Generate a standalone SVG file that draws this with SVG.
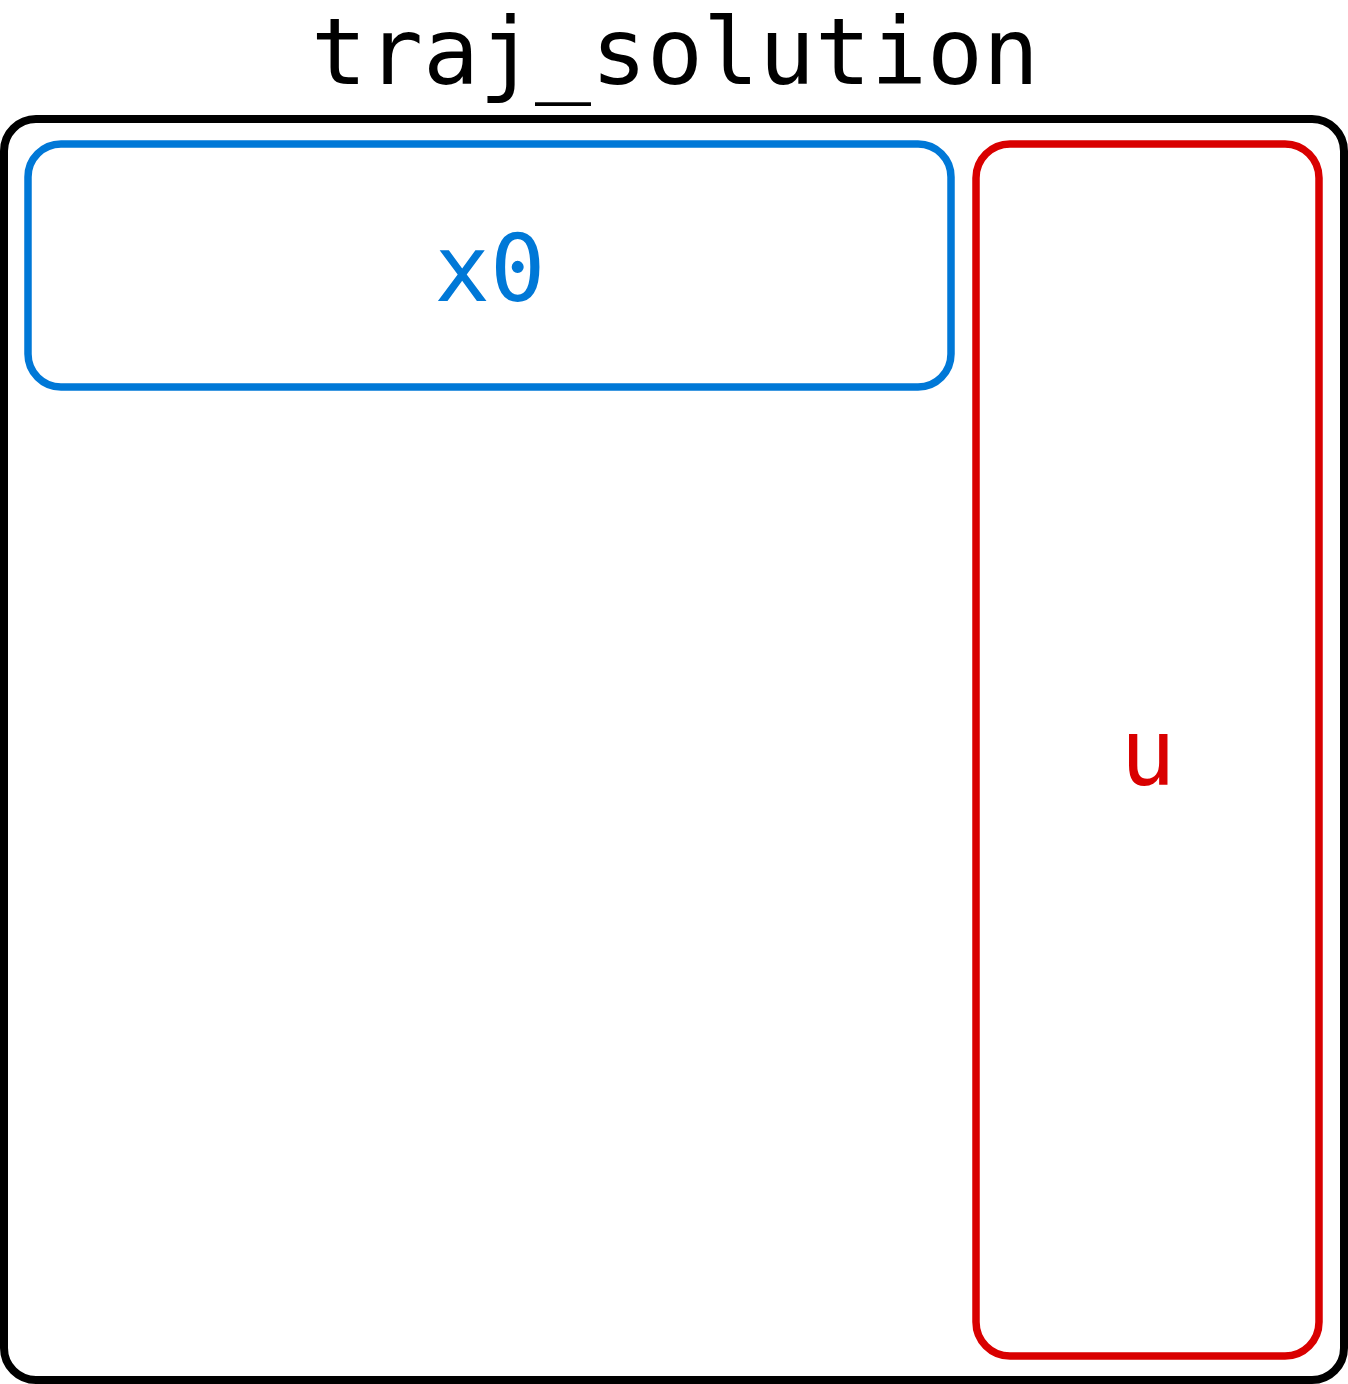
<svg xmlns="http://www.w3.org/2000/svg" width="1348" height="1384" viewBox="0 0 1348 1384">
<style>
text{font-family:"DejaVu Sans Mono","Liberation Mono",monospace;text-anchor:middle}
.box{fill:none}
</style>
<rect width="1348" height="1384" fill="#ffffff"/>
<g id="traj_solution">
<rect class="box" x="4" y="119" width="1340" height="1261" rx="32" stroke="#000000" stroke-width="8"/>
<text x="675" y="84" font-size="93" fill="#000000">traj_solution</text>
</g>
<g id="x0">
<rect class="box" x="28" y="144" width="923" height="243" rx="33" stroke="#0078D7" stroke-width="7.5"/>
<text x="490" y="301" font-size="92" fill="#0078D7">x0</text>
</g>
<g id="u">
<rect class="box" x="976" y="144" width="343" height="1212" rx="34" stroke="#D90000" stroke-width="7.5"/>
<text x="1148" y="785" font-size="92" fill="#D90000">u</text>
</g>
<g id="connectors"/>
</svg>
